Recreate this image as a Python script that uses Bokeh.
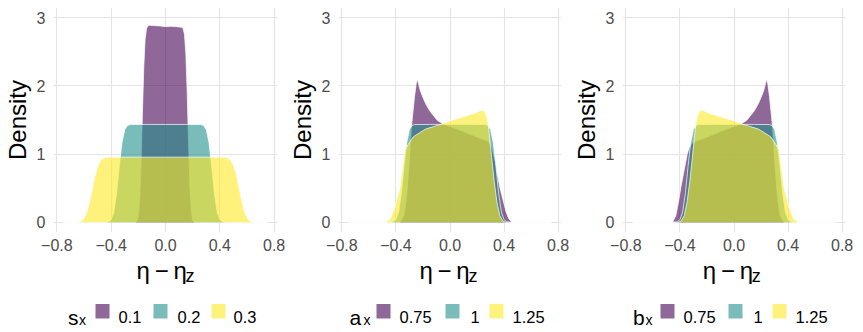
from bokeh.plotting import figure
from bokeh.layouts import row, column
from bokeh.models import Range1d, FixedTicker, CustomJSTickFormatter
from bokeh.core.properties import value
from bokeh.embed import file_html
from bokeh.resources import INLINE

# ---------------- data ----------------
# panel 1: s_x
s_levels = ["0.1", "0.2", "0.3"]
s01_x = [-0.75, -0.22, -0.21, -0.20, -0.19, -0.18, -0.17, -0.16, -0.15, -0.14, -0.13, -0.12,
         -0.08, -0.04, 0.0, 0.04, 0.08, 0.12, 0.13, 0.14, 0.15, 0.16, 0.17, 0.18, 0.19, 0.20, 0.21, 0.75]
s01_y = [0, 0, 0.02, 0.09, 0.33, 0.86, 1.59, 2.27, 2.68, 2.84, 2.88, 2.89,
         2.885, 2.88, 2.87, 2.875, 2.87, 2.86, 2.84, 2.75, 2.46, 1.88, 1.13, 0.51, 0.16, 0.03, 0, 0]
s02_x = [-0.75, -0.44, -0.42, -0.40, -0.38, -0.36, -0.34, -0.32, -0.30, -0.28, -0.26, -0.15, 0.0,
         0.15, 0.26, 0.28, 0.30, 0.32, 0.34, 0.36, 0.38, 0.40, 0.42, 0.44, 0.75]
s02_y = [0, 0, 0.005, 0.036, 0.15, 0.42, 0.82, 1.17, 1.36, 1.42, 1.433, 1.435, 1.435,
         1.435, 1.433, 1.42, 1.36, 1.17, 0.82, 0.42, 0.15, 0.036, 0.005, 0, 0]
s03_x = [-0.75, -0.66, -0.64, -0.62, -0.60, -0.58, -0.56, -0.54, -0.52, -0.50, -0.48, -0.46, -0.44,
         -0.42, -0.2, 0.0, 0.2, 0.42, 0.44, 0.46, 0.48, 0.50, 0.52, 0.54, 0.56, 0.58, 0.60, 0.62,
         0.64, 0.66, 0.75]
s03_y = [0, 0.001, 0.004, 0.017, 0.054, 0.14, 0.285, 0.478, 0.67, 0.815, 0.90, 0.938, 0.951,
         0.955, 0.955, 0.955, 0.955, 0.955, 0.952, 0.94, 0.91, 0.84, 0.71, 0.53, 0.33, 0.17, 0.07, 0.022,
         0.006, 0.001, 0]

# panel 2: a_x
a_levels = ["0.75", "1", "1.25"]
a075_x = [-0.75, -0.37, -0.34, -0.32, -0.305, -0.295, -0.285, -0.275, -0.262, -0.25, -0.242, -0.235,
          -0.22, -0.20, -0.18, -0.152, -0.12, -0.092, -0.056, -0.02, 0.05, 0.10, 0.15, 0.20, 0.25,
          0.28, 0.305, 0.32, 0.337, 0.345, 0.37, 0.393, 0.415, 0.435, 0.46, 0.75]
a075_y = [0, 0, 0.1, 0.4, 0.8, 1.1, 1.4, 1.6, 1.85, 2.03, 2.095, 2.05,
          1.93, 1.83, 1.74, 1.64, 1.56, 1.49, 1.45, 1.42, 1.37, 1.33, 1.29, 1.25, 1.21,
          1.19, 1.13, 1.0, 0.88, 0.76, 0.5, 0.32, 0.15, 0.05, 0, 0]
a1_x = [-0.75, -0.44, -0.42, -0.40, -0.38, -0.36, -0.34, -0.32, -0.30, -0.28, -0.26, -0.15, 0.0,
        0.15, 0.26, 0.28, 0.30, 0.32, 0.34, 0.36, 0.38, 0.40, 0.42, 0.44, 0.75]
a1_y = [0, 0, 0.005, 0.036, 0.15, 0.42, 0.82, 1.17, 1.36, 1.42, 1.433, 1.435, 1.435,
        1.435, 1.433, 1.42, 1.36, 1.17, 0.82, 0.42, 0.15, 0.036, 0.005, 0, 0]
a125_x = [-0.75, -0.475, -0.44, -0.407, -0.37, -0.346, -0.334, -0.31, -0.273, -0.22, -0.177, -0.11,
          -0.055, 0.0, 0.09, 0.17, 0.22, 0.24, 0.255, 0.268, 0.28, 0.293, 0.308, 0.327, 0.347,
          0.368, 0.39, 0.41, 0.75]
a125_y = [0, 0, 0.05, 0.22, 0.51, 0.86, 1.05, 1.14, 1.25, 1.32, 1.37, 1.41,
          1.445, 1.49, 1.54, 1.59, 1.63, 1.645, 1.63, 1.57, 1.48, 1.25, 0.95, 0.6, 0.3,
          0.1, 0.02, 0, 0]

# panel 3: b_x
b_levels = ["0.75", "1", "1.25"]
b075_x = [-0.75, -0.455, -0.43, -0.41, -0.394, -0.37, -0.346, -0.33, -0.31, -0.28, -0.25, -0.20,
          -0.15, -0.10, -0.05, 0.02, 0.056, 0.092, 0.12, 0.152, 0.18, 0.20, 0.22, 0.235, 0.242,
          0.25, 0.262, 0.275, 0.285, 0.295, 0.305, 0.32, 0.34, 0.37, 0.75]
b075_y = [0, 0, 0.1, 0.3, 0.5, 0.75, 1.0, 1.1, 1.16, 1.19, 1.21, 1.25,
          1.29, 1.33, 1.37, 1.42, 1.45, 1.49, 1.56, 1.64, 1.74, 1.83, 1.93, 2.05, 2.095,
          2.03, 1.85, 1.6, 1.4, 1.1, 0.8, 0.4, 0.1, 0, 0]
b1_x = [-0.75, -0.44, -0.42, -0.40, -0.38, -0.36, -0.34, -0.32, -0.30, -0.28, -0.26, -0.15, 0.0,
        0.15, 0.26, 0.28, 0.30, 0.32, 0.34, 0.36, 0.38, 0.40, 0.42, 0.44, 0.75]
b1_y = [0, 0, 0.005, 0.036, 0.15, 0.42, 0.82, 1.17, 1.36, 1.42, 1.433, 1.435, 1.435,
        1.435, 1.433, 1.42, 1.36, 1.17, 0.82, 0.42, 0.15, 0.036, 0.005, 0, 0]
b125_x = [-0.75, -0.41, -0.39, -0.368, -0.347, -0.327, -0.308, -0.293, -0.28, -0.268, -0.255, -0.24,
          -0.22, -0.17, -0.09, 0.0, 0.055, 0.11, 0.177, 0.22, 0.273, 0.31, 0.334, 0.346,
          0.37, 0.407, 0.44, 0.477, 0.75]
b125_y = [0, 0, 0.02, 0.1, 0.3, 0.6, 0.95, 1.25, 1.48, 1.57, 1.63, 1.645,
          1.63, 1.59, 1.54, 1.49, 1.445, 1.41, 1.37, 1.32, 1.25, 1.14, 1.05, 0.86,
          0.51, 0.22, 0.05, 0, 0]

x_ticks = [-0.8, -0.4, 0.0, 0.4, 0.8]
y_ticks = [0, 1, 2, 3]

# ---------------- style ----------------
COLORS = ["#440154", "#21908C", "#FDE725"]
FONT = value("Liberation Sans")
H_TOP = 258
FRAME_W = 227


def panel_fig(width, left, series):
    p = figure(width=width, height=H_TOP, x_range=Range1d(-0.825, 0.825),
               y_range=Range1d(-0.151, 3.151), output_backend="svg", toolbar_location=None,
               min_border_left=left, min_border_right=width - left - FRAME_W, min_border_top=7,
               min_border_bottom=26)
    p.outline_line_color = None
    p.background_fill_color = "white"
    for (xs, ys), col in zip(series, COLORS):
        p.varea(x=xs, y1=[0] * len(xs), y2=ys, fill_color=col, fill_alpha=0.6)
        p.line(x=xs, y=ys, line_color="white", line_width=0.7)
    p.xaxis.ticker = FixedTicker(ticks=x_ticks)
    p.yaxis.ticker = FixedTicker(ticks=y_ticks)
    p.xaxis.formatter = CustomJSTickFormatter(
        code="return (tick < 0 ? '\u2212' : '') + Math.abs(tick).toFixed(1);")
    for ax in p.axis:
        ax.axis_line_color = None
        ax.major_tick_line_color = None
        ax.minor_tick_line_color = None
        ax.major_tick_out = 0
        ax.major_tick_in = 0
        ax.major_label_text_font = "Liberation Sans"
        ax.major_label_text_font_size = "16px"
        ax.major_label_text_color = "#4D4D4D"
    p.xaxis.major_label_standoff = 6
    p.yaxis.major_label_standoff = 8
    p.yaxis.axis_label = "Density"
    p.yaxis.axis_label_text_font = "Liberation Sans"
    p.yaxis.axis_label_text_font_size = "24px"
    p.yaxis.axis_label_text_font_style = "normal"
    p.yaxis.axis_label_text_color = "#000000"
    p.yaxis.axis_label_standoff = 3
    p.xgrid.ticker = FixedTicker(ticks=x_ticks)
    p.ygrid.ticker = FixedTicker(ticks=y_ticks)
    p.grid.grid_line_color = "#E4E4E4"
    p.grid.grid_line_width = 1.2
    return p


p1 = panel_fig(285, 50, [(s01_x, s01_y), (s02_x, s02_y), (s03_x, s03_y)])
p2 = panel_fig(284, 49, [(a075_x, a075_y), (a1_x, a1_y), (a125_x, a125_y)])
p3 = panel_fig(294, 49, [(b075_x, b075_y), (b1_x, b1_y), (b125_x, b125_y)])

# ---------------- footer: axis titles and legends ----------------
foot = figure(width=863, height=74, x_range=Range1d(0, 863), y_range=Range1d(332, 258),
              x_axis_location=None, y_axis_location=None, output_backend="svg",
              toolbar_location=None, min_border_left=0, min_border_right=0,
              min_border_top=0, min_border_bottom=0)
foot.outline_line_color = None
foot.grid.visible = False

centers = [164.7, 447.6, 731.0]
foot.text(x=[c - 28.7 for c in centers], y=[270.0] * 3, text=["η\u2009\u2212\u2009η"] * 3,
          text_font=FONT, text_font_size="24px", text_baseline="alphabetic",
          text_align="left", text_color="#000000")
foot.text(x=[c + 20.3 for c in centers], y=[275.5] * 3, text=["z"] * 3,
          text_font=FONT, text_font_size="18px", text_baseline="alphabetic",
          text_align="left", text_color="#000000")

# legend titles
foot.text(x=[67.5, 349.0, 632.5], y=[316.7] * 3, text=["s", "a", "b"], text_font=FONT,
          text_font_size="21px", text_baseline="alphabetic", text_align="left",
          text_color="#000000")
foot.text(x=[78.5, 363.0, 645.0], y=[319.0] * 3, text=["x"] * 3, text_font=FONT,
          text_font_size="14px", text_baseline="alphabetic", text_align="left",
          text_color="#000000")

sw_left = [95, 153, 211, 376, 445, 489, 660, 728, 772]
foot.quad(left=sw_left, right=[v + 14 for v in sw_left], top=[303.5] * 9, bottom=[318.0] * 9,
          fill_color=COLORS * 3, fill_alpha=0.6, line_color=None)
foot.text(x=[118, 177, 233, 399, 470, 512, 683, 753, 795], y=[316.7] * 9,
          text=s_levels + a_levels + b_levels, text_font=FONT, text_font_size="16.5px",
          text_baseline="alphabetic", text_align="left", text_color="#000000")

layout = column(row(p1, p2, p3, spacing=0), foot, spacing=0)

open("out.html", "w").write(file_html(layout, INLINE))
